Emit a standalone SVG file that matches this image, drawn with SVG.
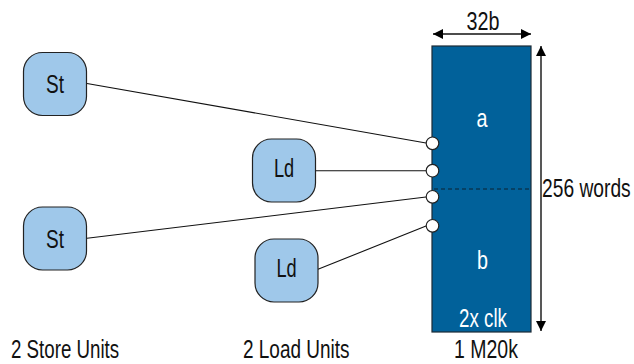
<svg xmlns="http://www.w3.org/2000/svg" width="634" height="364" viewBox="0 0 634 364">
  <defs>
    <marker id="head" viewBox="0 0 10 10" refX="10" refY="5" markerWidth="10" markerHeight="10" markerUnits="userSpaceOnUse" orient="auto-start-reverse">
      <path d="M0,0 L10,5 L0,10 Z" fill="#000"/>
    </marker>
    <style>
      text { font-family: "Liberation Sans", Arial, sans-serif; font-size: 26px; fill: #111; }
      .unit rect { fill: #9fc8ea; stroke: #222; stroke-width: 1.2; }
      .mid { text-anchor: middle; }
      .wire { stroke: #111; stroke-width: 1.1; fill: none; }
      .port { fill: #fff; stroke: #222; stroke-width: 1.2; }
      .dim { stroke: #111; stroke-width: 1.4; fill: none; }
      .inside { fill: #fff; }
    </style>
  </defs>

  <!-- memory block -->
  <g id="m20k">
    <rect x="432" y="46" width="99" height="286" fill="#01619a" stroke="#1c2a36" stroke-width="1.2"/>
    <line x1="434" y1="189" x2="530" y2="189" stroke="#0d2230" stroke-width="1.2" stroke-dasharray="4 3"/>
    <text class="inside mid" transform="translate(482,127) scale(0.76,1)">a</text>
    <text class="inside mid" transform="translate(482.5,269) scale(0.76,1)">b</text>
    <text class="inside mid" transform="translate(483,327) scale(0.72,1)">2x clk</text>
  </g>

  <!-- dimensions -->
  <g id="dimensions">
    <line class="dim" x1="433" y1="34" x2="531" y2="34" marker-start="url(#head)" marker-end="url(#head)"/>
    <text class="mid" transform="translate(483,30) scale(0.76,1)">32b</text>
    <line class="dim" x1="541" y1="46" x2="541" y2="331" marker-start="url(#head)" marker-end="url(#head)"/>
    <text transform="translate(542,197) scale(0.74,1)">256 words</text>
  </g>

  <!-- connectors -->
  <g id="connectors">
    <line class="wire" x1="87" y1="83.5" x2="426" y2="143"/>
    <line class="wire" x1="316" y1="170.7" x2="426" y2="170.7"/>
    <line class="wire" x1="87" y1="238.3" x2="426" y2="197"/>
    <line class="wire" x1="318" y1="269.3" x2="426" y2="226"/>
    <circle class="port" cx="432.5" cy="143.3" r="6.3"/>
    <circle class="port" cx="432.5" cy="170.7" r="6.3"/>
    <circle class="port" cx="432.5" cy="196.8" r="6.3"/>
    <circle class="port" cx="432.5" cy="225.8" r="6.3"/>
  </g>

  <!-- store units -->
  <g id="store1" class="unit">
    <rect x="23.5" y="52.5" width="63" height="63" rx="19"/>
    <text class="mid" transform="translate(55,93) scale(0.73,1)">St</text>
  </g>
  <g id="store2" class="unit">
    <rect x="23.5" y="207" width="63" height="63" rx="19"/>
    <text class="mid" transform="translate(55,247.5) scale(0.73,1)">St</text>
  </g>

  <!-- load units -->
  <g id="load1" class="unit">
    <rect x="252.5" y="139" width="63" height="63" rx="19"/>
    <text class="mid" transform="translate(284,176.5) scale(0.7,1)">Ld</text>
  </g>
  <g id="load2" class="unit">
    <rect x="255" y="239" width="63" height="63" rx="19"/>
    <text class="mid" transform="translate(286.5,276.5) scale(0.7,1)">Ld</text>
  </g>

  <!-- captions -->
  <g id="captions">
    <text transform="translate(11,358) scale(0.72,1)">2 Store Units</text>
    <text transform="translate(243,358) scale(0.73,1)">2 Load Units</text>
    <text transform="translate(454,358) scale(0.75,1)">1 M20k</text>
  </g>
</svg>
